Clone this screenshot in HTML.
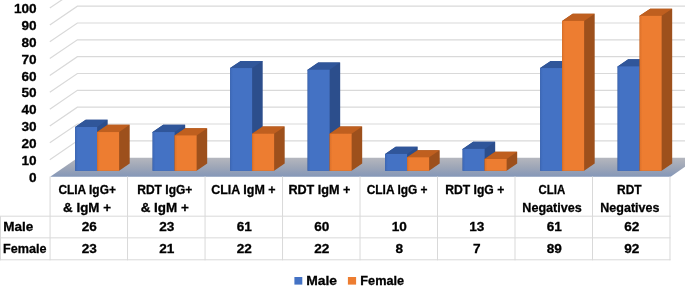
<!DOCTYPE html>
<html><head><meta charset="utf-8"><style>
html,body{margin:0;padding:0;background:#fff;width:685px;height:289px;overflow:hidden}
svg{display:block;will-change:transform}
</style></head><body>
<svg width="685" height="289" viewBox="0 0 685 289">
<rect width="685" height="289" fill="#fff"/>
<path d="M49.8 159.66L77.4 140.86H700 M49.8 142.82L77.4 124.02H700 M49.8 125.98L77.4 107.18H700 M49.8 109.14L77.4 90.34H700 M49.8 92.3L77.4 73.5H700 M49.8 75.46L77.4 56.66H700 M49.8 58.62L77.4 39.82H700 M49.8 41.78L77.4 22.98H700 M49.8 24.94L77.4 6.14H700 M49.8 8.1L77.4 -10.7H700" stroke="#D9D9D9" stroke-width="1.2" fill="none"/>
<defs><linearGradient id="fl" x1="0" y1="0" x2="0" y2="1"><stop offset="0" stop-color="#B5B7BE"/><stop offset="0.5" stop-color="#9EA6B7"/><stop offset="1" stop-color="#8497B8"/></linearGradient><linearGradient id="bf" x1="0" y1="0" x2="1" y2="0"><stop offset="0" stop-color="#3D68B6"/><stop offset="0.13" stop-color="#4472C4"/><stop offset="1" stop-color="#4472C4"/></linearGradient><linearGradient id="of" x1="0" y1="0" x2="1" y2="0"><stop offset="0" stop-color="#DD7129"/><stop offset="0.13" stop-color="#ED7D31"/><stop offset="1" stop-color="#ED7D31"/></linearGradient></defs>
<polygon points="50.2,176.8 670.6,176.8 698.2,157.7 77.8,157.7" fill="url(#fl)"/>
<polygon points="75.12,127.02 85.69,119.82 107.69,119.82 107.69,163.6 97.12,170.8 75.12,170.8" fill="#2C4E8C"/><polygon points="75.12,128.02 75.12,127.02 85.69,119.82 107.69,119.82 97.12,127.02 97.12,128.02" fill="#30569A"/><rect x="75.12" y="127.02" width="22" height="43.78" fill="url(#bf)"/>
<polygon points="97.12,132.07 107.69,124.87 129.69,124.87 129.69,163.6 119.12,170.8 97.12,170.8" fill="#9D501C"/><polygon points="97.12,133.07 97.12,132.07 107.69,124.87 129.69,124.87 119.12,132.07 119.12,133.07" fill="#BF5F1F"/><rect x="97.12" y="132.07" width="22" height="38.73" fill="url(#of)"/>
<polygon points="152.62,132.07 163.19,124.87 185.19,124.87 185.19,163.6 174.62,170.8 152.62,170.8" fill="#2C4E8C"/><polygon points="152.62,133.07 152.62,132.07 163.19,124.87 185.19,124.87 174.62,132.07 174.62,133.07" fill="#30569A"/><rect x="152.62" y="132.07" width="22" height="38.73" fill="url(#bf)"/>
<polygon points="174.62,135.44 185.19,128.24 207.19,128.24 207.19,163.6 196.62,170.8 174.62,170.8" fill="#9D501C"/><polygon points="174.62,136.44 174.62,135.44 185.19,128.24 207.19,128.24 196.62,135.44 196.62,136.44" fill="#BF5F1F"/><rect x="174.62" y="135.44" width="22" height="35.36" fill="url(#of)"/>
<polygon points="230.12,68.08 240.69,60.88 262.69,60.88 262.69,163.6 252.12,170.8 230.12,170.8" fill="#2C4E8C"/><polygon points="230.12,69.08 230.12,68.08 240.69,60.88 262.69,60.88 252.12,68.08 252.12,69.08" fill="#30569A"/><rect x="230.12" y="68.08" width="22" height="102.72" fill="url(#bf)"/>
<polygon points="252.12,133.75 262.69,126.55 284.69,126.55 284.69,163.6 274.12,170.8 252.12,170.8" fill="#9D501C"/><polygon points="252.12,134.75 252.12,133.75 262.69,126.55 284.69,126.55 274.12,133.75 274.12,134.75" fill="#BF5F1F"/><rect x="252.12" y="133.75" width="22" height="37.05" fill="url(#of)"/>
<polygon points="307.62,69.76 318.19,62.56 340.19,62.56 340.19,163.6 329.62,170.8 307.62,170.8" fill="#2C4E8C"/><polygon points="307.62,70.76 307.62,69.76 318.19,62.56 340.19,62.56 329.62,69.76 329.62,70.76" fill="#30569A"/><rect x="307.62" y="69.76" width="22" height="101.04" fill="url(#bf)"/>
<polygon points="329.62,133.75 340.19,126.55 362.19,126.55 362.19,163.6 351.62,170.8 329.62,170.8" fill="#9D501C"/><polygon points="329.62,134.75 329.62,133.75 340.19,126.55 362.19,126.55 351.62,133.75 351.62,134.75" fill="#BF5F1F"/><rect x="329.62" y="133.75" width="22" height="37.05" fill="url(#of)"/>
<polygon points="385.12,153.96 395.69,146.76 417.69,146.76 417.69,163.6 407.12,170.8 385.12,170.8" fill="#2C4E8C"/><polygon points="385.12,154.96 385.12,153.96 395.69,146.76 417.69,146.76 407.12,153.96 407.12,154.96" fill="#30569A"/><rect x="385.12" y="153.96" width="22" height="16.84" fill="url(#bf)"/>
<polygon points="407.12,157.33 417.69,150.13 439.69,150.13 439.69,163.6 429.12,170.8 407.12,170.8" fill="#9D501C"/><polygon points="407.12,158.33 407.12,157.33 417.69,150.13 439.69,150.13 429.12,157.33 429.12,158.33" fill="#BF5F1F"/><rect x="407.12" y="157.33" width="22" height="13.47" fill="url(#of)"/>
<polygon points="462.62,148.91 473.19,141.71 495.19,141.71 495.19,163.6 484.62,170.8 462.62,170.8" fill="#2C4E8C"/><polygon points="462.62,149.91 462.62,148.91 473.19,141.71 495.19,141.71 484.62,148.91 484.62,149.91" fill="#30569A"/><rect x="462.62" y="148.91" width="22" height="21.89" fill="url(#bf)"/>
<polygon points="484.62,159.01 495.19,151.81 517.19,151.81 517.19,163.6 506.62,170.8 484.62,170.8" fill="#9D501C"/><polygon points="484.62,160.01 484.62,159.01 495.19,151.81 517.19,151.81 506.62,159.01 506.62,160.01" fill="#BF5F1F"/><rect x="484.62" y="159.01" width="22" height="11.79" fill="url(#of)"/>
<polygon points="540.12,68.08 550.69,60.88 572.69,60.88 572.69,163.6 562.12,170.8 540.12,170.8" fill="#2C4E8C"/><polygon points="540.12,69.08 540.12,68.08 550.69,60.88 572.69,60.88 562.12,68.08 562.12,69.08" fill="#30569A"/><rect x="540.12" y="68.08" width="22" height="102.72" fill="url(#bf)"/>
<polygon points="562.12,20.92 572.69,13.72 594.69,13.72 594.69,163.6 584.12,170.8 562.12,170.8" fill="#9D501C"/><polygon points="562.12,21.92 562.12,20.92 572.69,13.72 594.69,13.72 584.12,20.92 584.12,21.92" fill="#BF5F1F"/><rect x="562.12" y="20.92" width="22" height="149.88" fill="url(#of)"/>
<polygon points="617.62,66.39 628.19,59.19 650.19,59.19 650.19,163.6 639.62,170.8 617.62,170.8" fill="#2C4E8C"/><polygon points="617.62,67.39 617.62,66.39 628.19,59.19 650.19,59.19 639.62,66.39 639.62,67.39" fill="#30569A"/><rect x="617.62" y="66.39" width="22" height="104.41" fill="url(#bf)"/>
<polygon points="639.62,15.87 650.19,8.67 672.19,8.67 672.19,163.6 661.62,170.8 639.62,170.8" fill="#9D501C"/><polygon points="639.62,16.87 639.62,15.87 650.19,8.67 672.19,8.67 661.62,15.87 661.62,16.87" fill="#BF5F1F"/><rect x="639.62" y="15.87" width="22" height="154.93" fill="url(#of)"/>
<path d="M50.07 176.5V260.3 M127.56 176.5V260.3 M205.05 176.5V260.3 M282.54 176.5V260.3 M360.03 176.5V260.3 M437.52 176.5V260.3 M515.01 176.5V260.3 M592.5 176.5V260.3 M669.99 176.5V260.3 M0 216.2H670.5 M0 237.85H670.5 M0 259.8H670.5 M0.5 216.2V260.3" stroke="#D9D9D9" stroke-width="1" fill="none"/>
<rect x="294.4" y="277" width="7.9" height="7.6" fill="#4472C4"/>
<rect x="347.9" y="277" width="8.2" height="7.6" fill="#ED7D31"/>
<g font-family="Liberation Sans, sans-serif" font-weight="bold" font-size="13.3" fill="#000" stroke="#000" stroke-width="0.3"><text x="36.6" y="181.65" text-anchor="end" font-size="13.6">0</text><text x="36.6" y="164.81" text-anchor="end" font-size="13.6">10</text><text x="36.6" y="147.97" text-anchor="end" font-size="13.6">20</text><text x="36.6" y="131.13" text-anchor="end" font-size="13.6">30</text><text x="36.6" y="114.29" text-anchor="end" font-size="13.6">40</text><text x="36.6" y="97.45" text-anchor="end" font-size="13.6">50</text><text x="36.6" y="80.61" text-anchor="end" font-size="13.6">60</text><text x="36.6" y="63.77" text-anchor="end" font-size="13.6">70</text><text x="36.6" y="46.93" text-anchor="end" font-size="13.6">80</text><text x="36.6" y="30.09" text-anchor="end" font-size="13.6">90</text><text x="36.6" y="13.25" text-anchor="end" font-size="13.6">100</text><text x="58.39" y="194.2" textLength="57.52" lengthAdjust="spacingAndGlyphs">CLIA IgG+</text><text x="137.24" y="194.2" textLength="55.12" lengthAdjust="spacingAndGlyphs">RDT IgG+</text><text x="211.21" y="194.2" textLength="64.39" lengthAdjust="spacingAndGlyphs">CLIA IgM +</text><text x="288.39" y="194.2" textLength="62.12" lengthAdjust="spacingAndGlyphs">RDT IgM +</text><text x="366.7" y="194.2" textLength="60.89" lengthAdjust="spacingAndGlyphs">CLIA IgG +</text><text x="445.18" y="194.2" textLength="59.08" lengthAdjust="spacingAndGlyphs">RDT IgG +</text><text x="538.59" y="194.2" textLength="26.67" lengthAdjust="spacingAndGlyphs">CLIA</text><text x="617.02" y="194.2" textLength="24.52" lengthAdjust="spacingAndGlyphs">RDT</text><text x="63.14" y="211.6" textLength="47.82" lengthAdjust="spacingAndGlyphs">&amp; IgM +</text><text x="140.65" y="211.6" textLength="48.14" lengthAdjust="spacingAndGlyphs">&amp; IgM +</text><text x="522.33" y="211.6" textLength="59.44" lengthAdjust="spacingAndGlyphs">Negatives</text><text x="600.34" y="211.6" textLength="59.03" lengthAdjust="spacingAndGlyphs">Negatives</text><text x="3.26" y="231" textLength="30.04" lengthAdjust="spacingAndGlyphs">Male</text><text x="3.12" y="253" textLength="43.45" lengthAdjust="spacingAndGlyphs">Female</text><text x="306.18" y="284.6" textLength="30.93" lengthAdjust="spacingAndGlyphs">Male</text><text x="360.37" y="284.6" textLength="43.81" lengthAdjust="spacingAndGlyphs">Female</text><text x="89.35" y="230.9" text-anchor="middle" font-size="13.6">26</text><text x="89.35" y="252.5" text-anchor="middle" font-size="13.6">23</text><text x="166.85" y="230.9" text-anchor="middle" font-size="13.6">23</text><text x="166.85" y="252.5" text-anchor="middle" font-size="13.6">21</text><text x="244.35" y="230.9" text-anchor="middle" font-size="13.6">61</text><text x="244.35" y="252.5" text-anchor="middle" font-size="13.6">22</text><text x="321.85" y="230.9" text-anchor="middle" font-size="13.6">60</text><text x="321.85" y="252.5" text-anchor="middle" font-size="13.6">22</text><text x="399.35" y="230.9" text-anchor="middle" font-size="13.6">10</text><text x="399.35" y="252.5" text-anchor="middle" font-size="13.6">8</text><text x="476.85" y="230.9" text-anchor="middle" font-size="13.6">13</text><text x="476.85" y="252.5" text-anchor="middle" font-size="13.6">7</text><text x="554.35" y="230.9" text-anchor="middle" font-size="13.6">61</text><text x="554.35" y="252.5" text-anchor="middle" font-size="13.6">89</text><text x="631.85" y="230.9" text-anchor="middle" font-size="13.6">62</text><text x="631.85" y="252.5" text-anchor="middle" font-size="13.6">92</text></g>
</svg>
</body></html>
